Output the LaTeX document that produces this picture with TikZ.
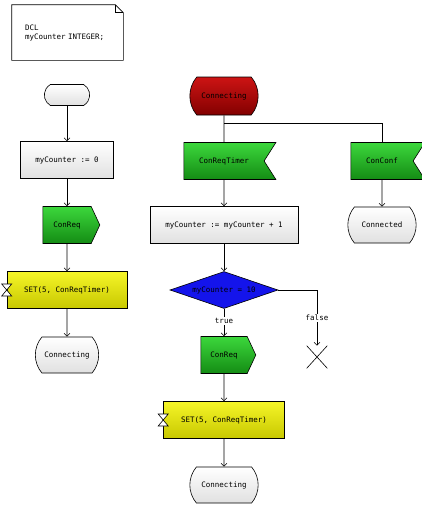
\documentclass[tikz,border=0pt]{standalone}
\usepackage{fontspec}
\setmonofont{DejaVu Sans Mono}
\usetikzlibrary{shapes.geometric,shapes.symbols,shapes.misc,arrows.meta,calc}
\definecolor{vert}{RGB}{60,215,60}
\definecolor{vertfonce}{RGB}{20,140,20}
\definecolor{rouge}{RGB}{205,20,20}
\definecolor{rougefonce}{RGB}{130,0,0}
\definecolor{jaune}{RGB}{245,245,40}
\definecolor{jaunefonce}{RGB}{200,200,0}
\definecolor{bleu}{RGB}{20,20,235}
\newcommand{\sablier}[1]{\draw[fill=white] ($(#1.west)+(-5pt,6pt)$) --++ (10pt,0) --
	($(#1.west)+(-5pt,-6pt)$) --++ (10pt,0) -- cycle}
\tikzset{
	boite/.style={rectangle, draw, top color=white, bottom color=black!12,
		minimum width=93pt, minimum height=37pt},
	etat/.style={rounded rectangle, rounded rectangle arc length=80, draw,
		top color=white, bottom color=black!12, minimum width=70pt, minimum height=36pt},
	sortie/.style={signal, signal to=east, signal pointer angle=130, draw,
		top color=vert, bottom color=vertfonce, minimum width=57pt, minimum height=37pt},
	entree/.style={signal, signal to=nowhere, signal from=east, signal pointer angle=115, draw,
		top color=vert, bottom color=vertfonce, minimum height=37pt},
	tache/.style={rectangle, draw, top color=jaune, bottom color=jaunefonce,
		minimum width=120pt, minimum height=37pt},
	fleche/.style={-{Straight Barb[length=3pt,width=6pt]}},
	etiq/.style={fill=white, inner sep=1pt}
}
\begin{document}
\begin{tikzpicture}[x=1pt,y=-1pt,line width=0.6pt,
	font=\ttfamily\fontsize{7.5}{9}\selectfont]
	\useasboundingbox (0,0) rectangle (422,507);
	\node[minimum width=111pt, minimum height=55pt, text width=85pt, align=left] (dcl) at (67.5,32.5)
		{DCL\\myCounter INTEGER;};
	\draw (dcl.north west) -- ($(dcl.north east)+(-8pt,0)$) -- ($(dcl.north east)+(0,-8pt)$)
		-- (dcl.south east) -- (dcl.south west) -- cycle;
	\draw ($(dcl.north east)+(-8pt,0)$) |- ($(dcl.north east)+(0,-8pt)$);

	\node[etat, rounded rectangle arc length=120, minimum width=52pt, minimum height=21pt] (debut) at (67,95) {};
	\node[boite] (init) at (67,160) {myCounter := 0};
	\node[sortie] (req) at (67,225) {ConReq};
	\node[tache] (set) at (67,290) {SET(5, ConReqTimer)};
	\node[etat] (conn) at (67,355) {Connecting};
	\draw[fleche] (debut) -- (init);
	\draw[fleche] (init) -- (req);
	\draw[fleche] (req) -- (set);
	\draw[fleche] (set) -- (conn);
	\sablier{set};

	\node[etat, top color=rouge, bottom color=rougefonce, minimum width=75pt, minimum height=38pt] (attente) at (224,96) {Connecting};
	\node[entree, minimum width=92pt] (timer) at (224,161) {ConReqTimer};
	\node[entree, minimum width=74pt] (conf) at (382,161) {ConConf};
	\node[boite, minimum width=148pt] (incr) at (224,225) {myCounter := myCounter + 1};
	\node[etat, minimum width=75pt] (connd) at (382,225) {Connected};
	\node[diamond, draw, fill=bleu, inner sep=0pt, aspect=3, minimum width=108pt, minimum height=37pt] (test) at (224,290) {myCounter = 10};
	\node[cross out, draw, minimum width=20pt, minimum height=22pt] (fin) at (317,357) {};
	\node[sortie, minimum width=55pt] (req2) at (224,355) {ConReq};
	\node[tache, minimum width=121pt] (set2) at (224,420) {SET(5, ConReqTimer)};
	\node[etat, minimum width=75pt] (conn2) at (224,485) {Connecting};
	\coordinate (fourche) at ($(attente.south)+(0,-8pt)$);
	\draw (attente) -- (timer);
	\draw (fourche) -| (conf);
	\draw[fleche] (timer) -- (incr);
	\draw[fleche] (conf) -- (connd);
	\draw[fleche] (incr) -- (test);
	\draw[fleche] (test) -- node[etiq, pos=0.45] {true} (req2);
	\draw[fleche] (test.east) -| node[etiq, pos=0.75] {false} (fin.north);
	\draw[fleche] (req2) -- (set2);
	\draw[fleche] (set2) -- (conn2);
	\sablier{set2};
\end{tikzpicture}
\end{document}
